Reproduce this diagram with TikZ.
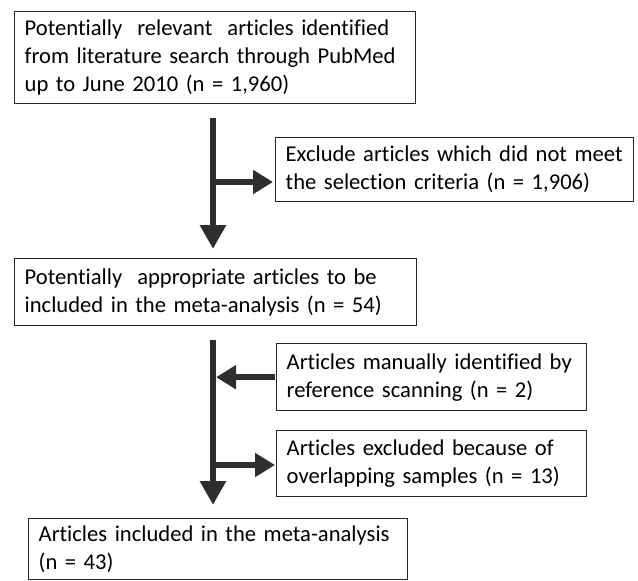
\documentclass[tikz,border=0pt]{standalone}
\usepackage{fontspec}
\setmainfont[Ligatures=NoCommon]{Carlito}
\usetikzlibrary{arrows.meta}
\newcommand\tline[1]{\mbox{#1}}
\begin{document}
\begin{tikzpicture}[x=1pt,y=1pt,
  box/.style={draw=black!85, line width=1.4pt, anchor=north west, align=left,
    inner xsep=10pt, inner ysep=4pt, font=\fontsize{22.6}{28}\selectfont},
  mainarr/.style={draw=black!82, line width=6.5pt, -{Triangle[width=25pt,length=24pt]}, fill=black!82},
  sidearr/.style={draw=black!82, line width=6.5pt, -{Triangle[width=23pt,length=20pt]}, fill=black!82}]
\useasboundingbox (0,0) rectangle (638,-581);
\node[box, minimum width=401pt, minimum height=92pt, text width=381pt] (b1) at (14,-11)
  {\tline{Potentially\ \ relevant\ \ articles identified}\\\tline{from literature search through PubMed}\\\tline{up to June 2010 (n = 1,960)}};
\node[box, minimum width=358pt, minimum height=64pt, text width=338pt] (b2) at (275,-137)
  {\tline{Exclude articles which did not meet}\\\tline{the selection criteria (n = 1,906)}};
\node[box, minimum width=402pt, minimum height=67pt, text width=382pt] (b3) at (14,-258)
  {\tline{Potentially\ \ appropriate articles to be}\\\tline{included in the meta-analysis (n = 54)}};
\node[box, minimum width=310pt, minimum height=67pt, text width=290pt] (b4) at (276,-343)
  {\tline{Articles manually identified by}\\\tline{reference scanning (n = 2)}};
\node[box, minimum width=310pt, minimum height=66pt, text width=290pt] (b5) at (276,-430)
  {\tline{Articles excluded because of}\\\tline{overlapping samples (n = 13)}};
\node[box, minimum width=379pt, minimum height=61pt, text width=359pt] (b6) at (28,-518)
  {\tline{Articles included in the meta-analysis}\\\tline{(n = 43)}};
\coordinate (a1) at (213,-118);
\coordinate (j1) at (213,-182);
\coordinate (a2) at (213,-340);
\coordinate (j2) at (216,-377);
\coordinate (j3) at (213,-465);
\draw[mainarr, shorten >=9pt] (a1) -- (a1 |- b3.north);
\draw[sidearr, shorten >=2pt] (j1) -- (j1 -| b2.west);
\draw[mainarr, shorten >=13pt] (a2) -- (a2 |- b6.north);
\draw[sidearr, shorten <=1pt] (b4.west) -- (b4.west -| j2);
\draw[sidearr, shorten >=1pt] (j3) -- (j3 -| b5.west);
\end{tikzpicture}
\end{document}
